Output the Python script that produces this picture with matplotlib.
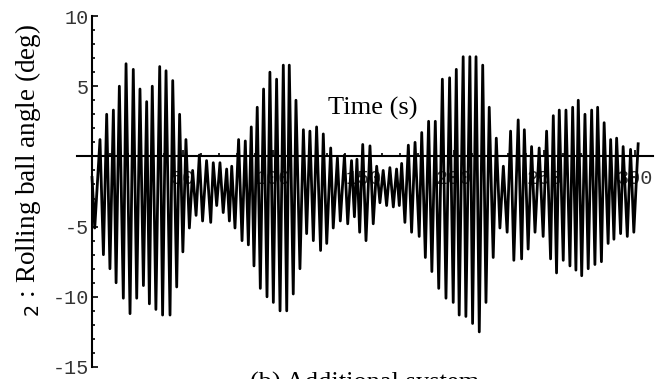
import matplotlib
matplotlib.use("Agg")
import matplotlib.pyplot as plt
from matplotlib.ticker import FixedLocator

# turning points of the rolling ball trace: time (s) and angle (deg)
time_s = [
    0.0, 1.5, 4.4, 6.3, 8.1, 9.9, 11.8, 13.3, 15.1, 17.3,
    18.8, 21.0, 22.8, 24.7, 26.5, 28.4, 30.2, 31.7, 33.3, 35.3,
    37.4, 39.0, 40.9, 43.1, 44.6, 46.8, 48.4, 50.2, 51.9, 53.8,
    55.6, 57.5, 59.3, 61.1, 63.3, 65.6, 67.0, 68.9, 70.7, 72.5,
    74.4, 75.9, 77.2, 79.0, 81.0, 82.9, 84.7, 86.4, 88.0, 89.5,
    91.3, 93.0, 94.8, 96.7, 98.3, 100.2,
    102.0, 103.9, 105.7, 107.6, 109.0, 111.2, 112.7, 114.9, 116.8, 118.6,
    120.4, 122.3, 124.1, 126.3, 127.8, 129.7, 131.9, 133.3, 135.6, 137.2,
    139.5, 141.3, 143.4, 145.0, 146.4, 147.9, 149.6,
    151.4, 153.6, 155.4, 157.3, 159.1, 160.9, 162.8, 164.6, 166.5, 168.3,
    169.8, 171.1, 172.9, 174.8, 176.6, 178.5, 180.8, 182.2, 184.2, 186.0,
    187.8, 189.7, 191.6, 193.6, 195.6, 197.6, 199.6,
    201.3, 202.9, 205.1, 206.6, 208.8, 210.3, 212.2, 214.0, 215.9, 217.7,
    219.5, 221.7, 223.4, 225.4, 227.3, 229.4, 231.3, 233.1, 235.5, 237.4,
    238.9, 241.0, 242.9, 244.8, 247.1, 249.3,
    251.2, 253.4, 254.9, 256.7, 258.2, 260.4, 261.9, 264.1, 265.6, 267.4,
    268.7, 270.6, 272.4, 274.2, 276.1, 277.9, 279.4, 281.5, 283.0, 285.2,
    286.6, 288.4, 289.9, 292.1, 293.5, 295.8, 297.6, 299.4, 301.8,
]
angle_deg = [
    -1.5, -5.1, 1.2, -7.0, 3.0, -8.0, 3.3, -9.0, 5.0, -10.1,
    6.6, -11.2, 6.2, -10.1, 4.8, -9.2, 3.9, -10.5, 5.0, -10.9,
    6.4, -11.3, 6.1, -11.3, 5.4, -9.3, 3.0, -6.8, 1.2, -5.1,
    -1.0, -4.2, 0.1, -4.6, -0.3, -4.7, -0.45, -3.5, -0.45, -4.0,
    -0.9, -4.6, -0.7, -5.1, 1.2, -6.0, 1.1, -6.3, 2.1, -7.8,
    3.5, -9.4, 4.8, -10.0, 6.0, -10.4,
    5.5, -11.0, 6.5, -11.0, 6.5, -9.8, 4.0, -8.0, 1.9, -5.5,
    1.8, -6.0, 2.1, -6.7, 1.6, -6.2, 0.6, -5.1, -0.1, -4.6,
    0.1, -4.8, -0.3, -4.3, -0.2, -5.4, 0.85,
    -6.0, 0.75, -4.8, -0.7, -3.3, -1.0, -3.5, -0.8, -3.6, -0.9,
    -3.5, -0.5, -4.7, 0.8, -5.4, 1.0, -5.7, 1.7, -7.2, 2.5,
    -8.2, 2.5, -9.4, 5.5, -10.1, 5.6, -10.4,
    6.2, -11.3, 7.1, -11.4, 7.1, -11.9, 7.1, -12.5, 6.5, -10.4,
    3.5, -7.2, 1.3, -5.1, -0.7, -5.4, 1.8, -7.4, 2.6, -7.3,
    1.9, -6.6, 0.7, -5.4, 0.6, -5.7,
    1.8, -7.3, 2.9, -8.3, 3.3, -7.4, 3.3, -7.8, 3.5, -8.1,
    4.0, -8.5, 3.0, -8.0, 3.3, -7.7, 3.5, -7.5, 2.4, -6.2,
    1.2, -5.9, 1.3, -5.5, 0.7, -5.7, 0.5, -5.4, 0.9,
]

x_major = [50, 100, 150, 200, 250, 300]
y_major = [-15, -10, -5, 5, 10]

plt.rcParams["axes.unicode_minus"] = False
plt.rcParams["mathtext.fontset"] = "dejavusans"

fig = plt.figure(figsize=(6.66, 3.79), dpi=100)
ax = fig.add_axes([77 / 666, 1 - 367 / 379, 576 / 666, 351 / 379])

ax.plot(time_s, angle_deg, color="black", lw=2.0, zorder=3)

ax.set_xlim(-8.3, 310)
ax.set_ylim(-15, 10)

for side in ["top", "right"]:
    ax.spines[side].set_visible(False)
ax.spines["left"].set_position(("data", 0))
ax.spines["bottom"].set_position(("data", 0))
for side in ["left", "bottom"]:
    ax.spines[side].set_linewidth(1.5)

ax.set_xticks(x_major)
ax.xaxis.set_minor_locator(FixedLocator([v for v in range(10, 310, 10) if v % 50]))
ax.set_yticks(y_major)
ax.yaxis.set_minor_locator(FixedLocator([v for v in range(-15, 11) if v % 5]))

ax.tick_params(which="both", direction="in", width=1.2, color="black")
ax.tick_params(which="major", length=4.5)
ax.tick_params(which="minor", length=2.2)
ax.tick_params(axis="x", pad=9)
ax.tick_params(axis="y", pad=2)
for lbl in ax.get_xticklabels() + ax.get_yticklabels():
    lbl.set_fontfamily("Liberation Mono")
    lbl.set_fontsize(14.5)
    lbl.set_color("#333333")

ax.text(155, 3.4, "Time (s)", family="Liberation Serif", fontsize=19,
        ha="center", va="center")

fig.text(28 / 666, 1 - 170 / 379, r"$_2$ : Rolling ball angle (deg)",
         family="Liberation Serif", fontsize=19.5, rotation=90,
         ha="center", va="center")

fig.text(365 / 666, 1 - 390 / 379, "(b) Additional system",
         family="Liberation Serif", fontsize=19, ha="center", va="baseline")

fig.savefig("out.png", dpi=100)
